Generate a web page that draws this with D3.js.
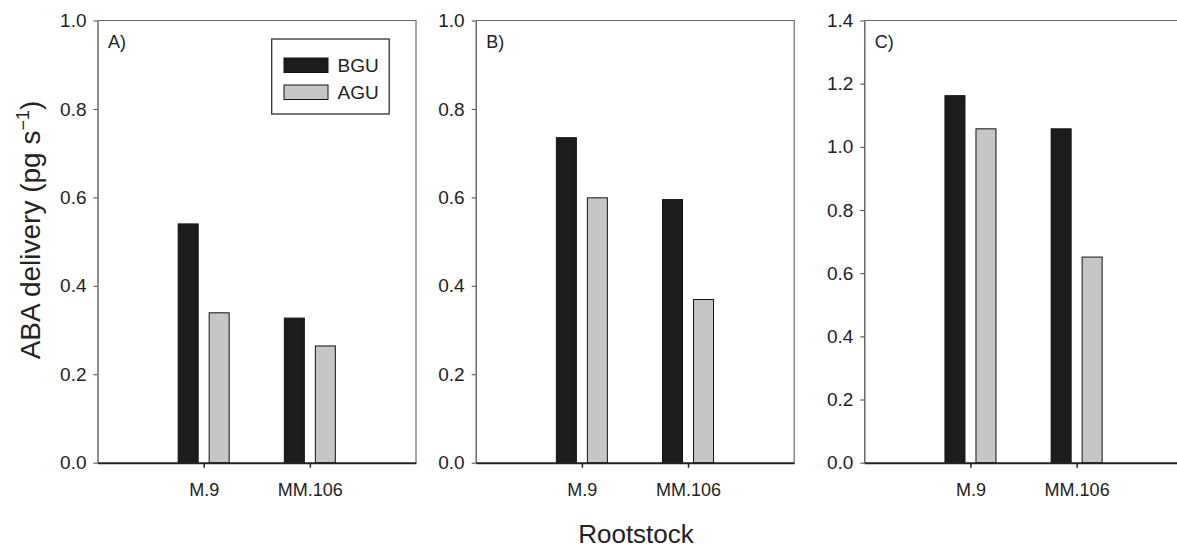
<!DOCTYPE html>
<html>
<head>
<meta charset="utf-8">
<script src="https://cdn.jsdelivr.net/npm/d3@7"></script>
<style>
  html, body { margin: 0; padding: 0; background: #ffffff; }
  svg { display: block; font-family: "Liberation Sans", Arial, sans-serif; }
</style>
</head>
<body>
<svg id="chart" width="1177" height="548"></svg>
<script>
// ---- data ----
const categories = ["M.9", "MM.106"];
const seriesNames = ["BGU", "AGU"];
const panelLabels = ["A)", "B)", "C)"];
const bguA = [0.540, 0.327];
const aguA = [0.339, 0.264];
const bguB = [0.735, 0.595];
const aguB = [0.599, 0.369];
const bguC = [1.162, 1.057];
const aguC = [1.057, 0.651];
const yMaxes = [1.0, 1.0, 1.4];
const yTicksAB = [0.0, 0.2, 0.4, 0.6, 0.8, 1.0];
const yTicksC = [0.0, 0.2, 0.4, 0.6, 0.8, 1.0, 1.2, 1.4];
const xTitle = "Rootstock";

// ---- layout ----
const svg = d3.select("#chart");
const panelLefts = [97.5, 475.7, 864.3];
const panelW = 318.5;
const plotTop = 20.5, plotBottom = 462.7;
const colors = { BGU: "#1c1c1c", AGU: "#c6c6c6" };
const textColor = "#222";
const FONT = "Liberation Sans, Arial, sans-serif";

const panels = [
  { label: panelLabels[0], bgu: bguA, agu: aguA, max: yMaxes[0], ticks: yTicksAB },
  { label: panelLabels[1], bgu: bguB, agu: aguB, max: yMaxes[1], ticks: yTicksAB },
  { label: panelLabels[2], bgu: bguC, agu: aguC, max: yMaxes[2], ticks: yTicksC }
];

panels.forEach((p, i) => {
  const g = svg.append("g").attr("transform", `translate(${panelLefts[i]},0)`);
  const x = d3.scalePoint().domain(categories).range([0, panelW]).padding(1);
  const x1 = d3.scaleBand().domain(seriesNames).range([-25.5, 25.5]).paddingInner(0.355).paddingOuter(0);
  const y = d3.scaleLinear().domain([0, p.max]).range([plotBottom, plotTop]);

  // frame (top & right)
  g.append("path")
    .attr("d", `M0,${plotTop}H${panelW}V${plotBottom}`)
    .attr("fill", "none").attr("stroke", "#6a6a6a").attr("stroke-width", 1.2);

  // bars
  const rows = categories.map((c, k) => ({ cat: c, BGU: p.bgu[k], AGU: p.agu[k] }));
  const grp = g.selectAll("g.grp").data(rows).join("g")
    .attr("class", "grp")
    .attr("transform", d => `translate(${x(d.cat)},0)`);
  grp.selectAll("rect").data(d => seriesNames.map(s => ({ s, v: d[s] }))).join("rect")
    .attr("x", d => x1(d.s))
    .attr("width", x1.bandwidth())
    .attr("y", d => y(d.v))
    .attr("height", d => plotBottom - y(d.v))
    .attr("fill", d => colors[d.s])
    .attr("stroke", "#111").attr("stroke-width", 1);

  // y axis
  const ya = g.append("g").call(
    d3.axisLeft(y).tickValues(p.ticks).tickFormat(d3.format(".1f")).tickSize(4).tickSizeOuter(0).tickPadding(7)
  );
  ya.select(".domain").attr("stroke", "#444").attr("stroke-width", 1.2);
  ya.selectAll(".tick line").attr("stroke", "#444");
  ya.selectAll("text").attr("font-size", 19).attr("fill", textColor).attr("font-family", FONT);

  // x axis
  const xa = g.append("g").attr("transform", `translate(0,${plotBottom})`).call(
    d3.axisBottom(x).tickSize(5).tickSizeOuter(0).tickPadding(16)
  );
  xa.select(".domain").attr("stroke", "#222").attr("stroke-width", 2);
  xa.selectAll(".tick line").attr("stroke", "#222").attr("stroke-width", 1.5);
  xa.selectAll("text").attr("font-size", 18).attr("fill", textColor).attr("font-family", FONT);

  // panel label
  g.append("text").attr("x", 10.5).attr("y", 48).attr("font-size", 18).attr("fill", textColor).text(p.label);

  // legend in panel A
  if (i === 0) {
    const lg = svg.append("g");
    lg.append("rect").attr("x", 271.7).attr("y", 39).attr("width", 117.5).attr("height", 75)
      .attr("fill", "#fff").attr("stroke", "#222").attr("stroke-width", 1.2);
    seriesNames.forEach((s, k) => {
      const yy = 58 + k * 27;
      lg.append("rect").attr("x", 284).attr("y", yy).attr("width", 44).attr("height", 14.5)
        .attr("fill", colors[s]).attr("stroke", "#111").attr("stroke-width", 1);
      lg.append("text").attr("x", 337.5).attr("y", yy + 14).attr("font-size", 19).attr("fill", textColor).text(s);
    });
  }
});

// axis titles
svg.append("text")
  .attr("x", 636).attr("y", 543)
  .attr("text-anchor", "middle").attr("font-size", 26).attr("fill", textColor)
  .text(xTitle);

const yt = svg.append("text")
  .attr("transform", "translate(40,230) rotate(-90)")
  .attr("text-anchor", "middle").attr("font-size", 28).attr("fill", textColor);
yt.append("tspan").text("ABA delivery (pg s");
yt.append("tspan").attr("font-size", 18).attr("dy", -11).text("−1");
yt.append("tspan").attr("dy", 11).text(")");
</script>
</body>
</html>
